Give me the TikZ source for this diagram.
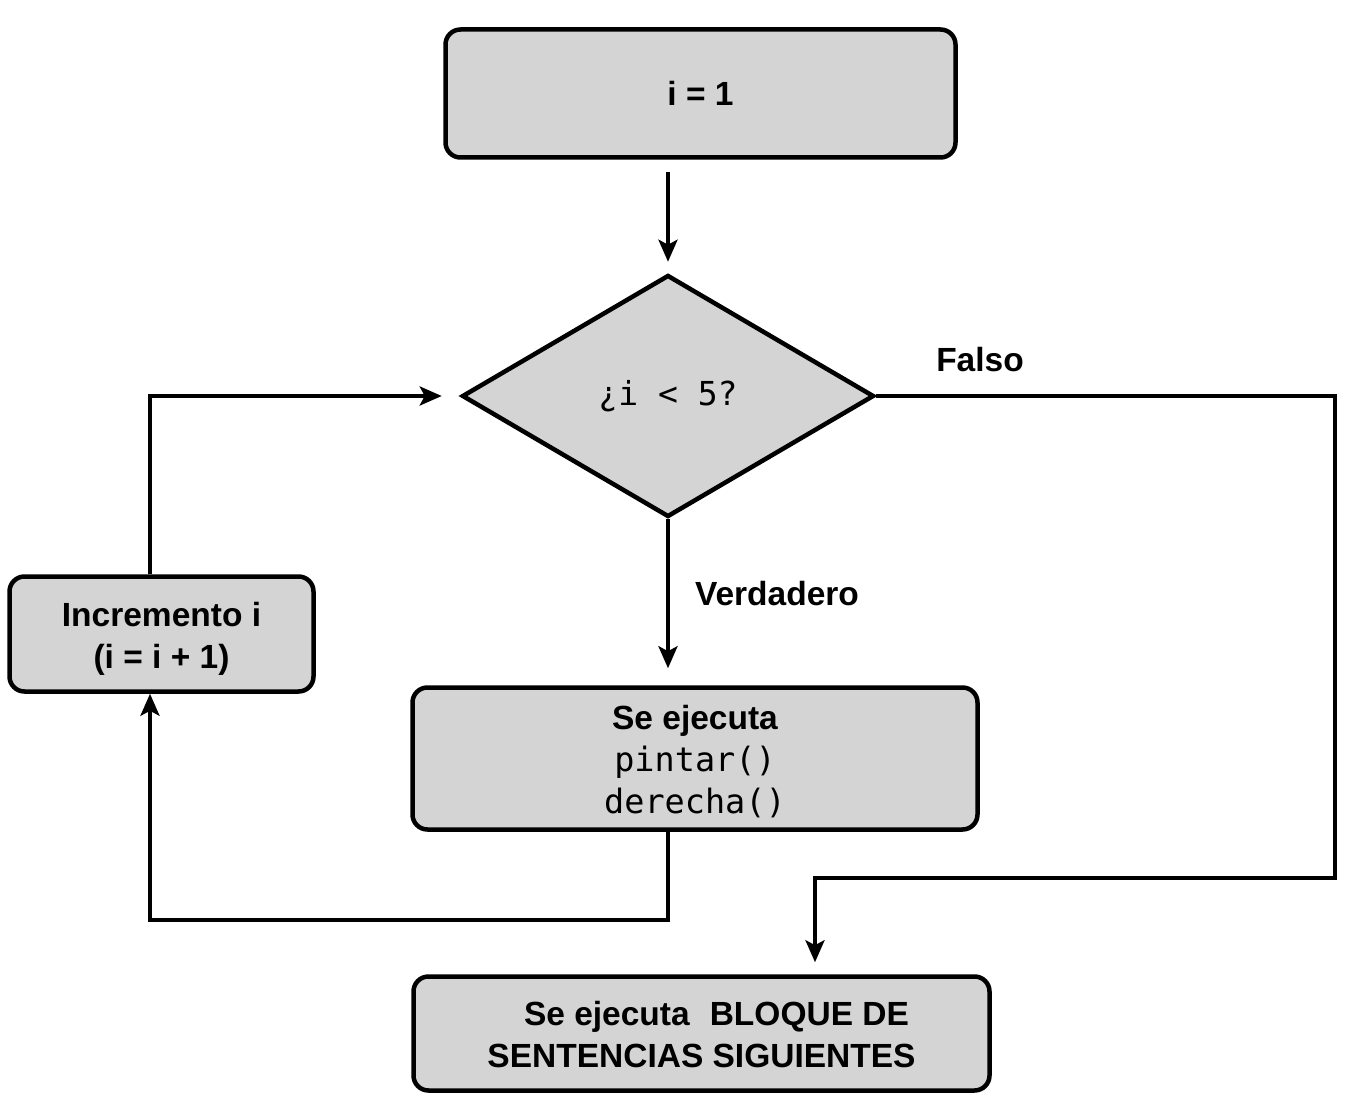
\documentclass[tikz,border=0pt]{standalone}
\usepackage{fontspec}
\setmainfont{Liberation Sans}
\setmonofont{DejaVu Sans Mono}
\usetikzlibrary{shapes.geometric,arrows.meta}
\definecolor{boxgray}{RGB}{212,212,212}
\begin{document}
\begin{tikzpicture}[x=1pt,y=-1pt,
  box/.style={draw, line width=4.5pt, fill=boxgray, rounded corners=15pt, inner sep=0pt,
    align=center, font=\fontsize{33.5}{42}\selectfont\bfseries},
  decision/.style={draw, diamond, line width=4.5pt, fill=boxgray, inner sep=0pt,
    font=\fontsize{33}{40}\selectfont\ttfamily},
  arr/.style={line width=4pt, -{Stealth[length=22pt,width=19pt,inset=5pt]}},
  lbl/.style={font=\fontsize{33.5}{40}\selectfont\bfseries, inner sep=0pt}]
\useasboundingbox (0,0) rectangle (1360,1110);

\node[box, minimum width=510pt, minimum height=128pt] (start) at (700.5,93.5) {i = 1};
\node[decision, minimum width=412pt, minimum height=242pt] (cond) at (668,396) {¿i < 5?};
\node[box, minimum width=565pt, minimum height=142pt] (exec) at (695,758.5)
  {\rule{0pt}{31pt}Se ejecuta\\{\mdseries\ttfamily pintar()}\\{\mdseries\ttfamily derecha()}};
\node[box, minimum width=304pt, minimum height=115pt] (incr) at (161.5,634)
  {\rule{0pt}{33pt}Incremento i\\(i = i + 1)};
\node[box, minimum width=576pt, minimum height=114pt] (final) at (701.5,1033.5)
  {\rule{0pt}{27pt}\hspace*{30pt}Se ejecuta\hspace{0.6em}BLOQUE DE\\SENTENCIAS SIGUIENTES};

\node[lbl] (falso) at (980,360) {Falso};
\node[lbl] (verd) at (777,594) {Verdadero};

\coordinate (lb) at (150,920);
\coordinate (rb) at (1335,878);
\coordinate (fk) at (815,878);

% start -> condition
\draw[arr, shorten <=12pt, shorten >=11pt] (start.south -| cond.north) -- (cond.north);
% true branch
\draw[arr, shorten >=17pt] (cond.south) -- (cond.south |- exec.north);
% exec -> increment
\draw[arr] (cond.south |- exec.south) |- (lb) -- (lb |- incr.south);
% increment -> condition
\draw[arr, shorten >=18pt] (lb |- incr.north) |- (cond.west);
% false branch
\draw[arr, shorten >=12pt] (cond.east) -| (rb) -- (fk) -- (fk |- final.north);
\end{tikzpicture}
\end{document}
